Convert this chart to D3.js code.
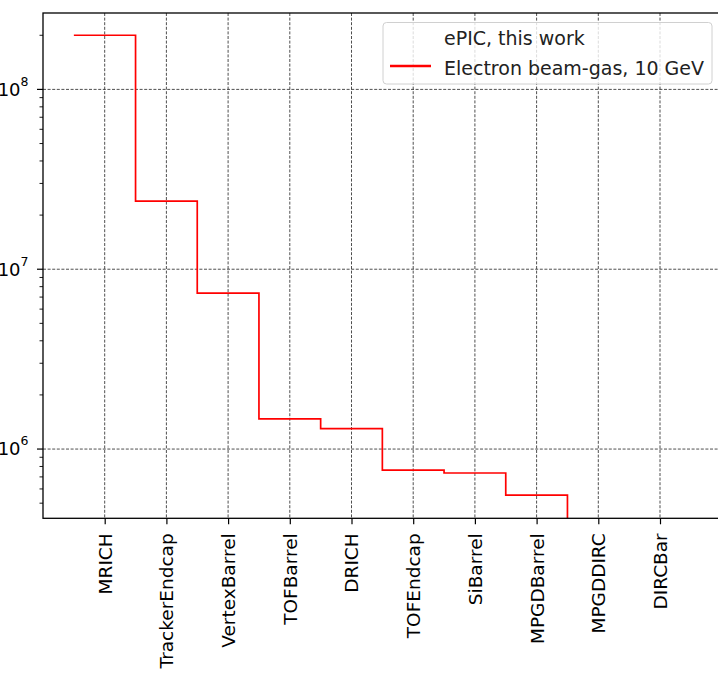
<!DOCTYPE html>
<html>
<head>
<meta charset="utf-8">
<script src="https://cdn.jsdelivr.net/npm/d3@7"></script>
<style>
  html, body { margin: 0; padding: 0; background: #fff; overflow: hidden; }
  svg { display: block; font-family: "DejaVu Sans", sans-serif; }
</style>
</head>
<body>
<svg id="chart" width="718" height="675"></svg>
<script>
const categories = ["MRICH", "TrackerEndcap", "VertexBarrel", "TOFBarrel", "DRICH",
                    "TOFEndcap", "SiBarrel", "MPGDBarrel", "MPGDDIRC", "DIRCBar"];
const values = [2.0e8, 2.39e7, 7.36e6, 1.47e6, 1.30e6, 7.64e5, 7.36e5, 5.55e5, 0, 0];
const seriesLabel = "Electron beam-gas, 10 GeV";
const legendTitle = "ePIC, this work";
const yMajorTicks = [1e6, 1e7, 1e8];
const yDomain = [4.12e5, 2.66e8];
const xDomain = [-1, 10];

(function () {
const FONT = "DejaVu Sans, sans-serif";
const svg = d3.select("#chart");
const pLeft = 43, pTop = 13, pBottom = 518.3;
const step = 61.7;
const pRight = pLeft + (xDomain[1] - xDomain[0]) * step;

const x = d3.scaleLinear().domain(xDomain).range([pLeft, pRight]);
const y = d3.scaleLog().domain(yDomain).range([pBottom, pTop]);

svg.append("defs").append("clipPath").attr("id", "plotclip")
  .append("rect").attr("x", pLeft).attr("y", pTop).attr("width", pRight - pLeft).attr("height", pBottom - pTop);

const grid = svg.append("g").attr("stroke", "#222").attr("stroke-width", 0.8)
  .attr("stroke-dasharray", "3,1.6").attr("fill", "none");
categories.forEach((c, i) => {
  grid.append("line").attr("x1", x(i)).attr("x2", x(i)).attr("y1", pTop).attr("y2", pBottom);
});
yMajorTicks.forEach(t => {
  grid.append("line").attr("x1", pLeft).attr("x2", pRight).attr("y1", y(t)).attr("y2", y(t));
});

// stairs
const pts = [];
const yv = v => v > 0 ? y(v) : pBottom + 200;
values.forEach((v, i) => {
  pts.push([x(i - 0.5), yv(v)]);
  pts.push([x(i + 0.5), yv(v)]);
});
svg.append("path")
  .attr("clip-path", "url(#plotclip)")
  .attr("d", d3.line()(pts))
  .attr("fill", "none").attr("stroke", "#ff0000").attr("stroke-width", 1.7)
  .attr("stroke-linejoin", "miter");

// x axis
const xAxis = d3.axisBottom(x).tickValues(d3.range(categories.length))
  .tickFormat(i => categories[i]).tickSize(6).tickPadding(4);
const gx = svg.append("g").attr("transform", `translate(0,${pBottom})`).call(xAxis)
  .attr("font-family", FONT).attr("font-size", 18.5);
gx.select(".domain").remove();
gx.selectAll(".tick line").attr("stroke", "#000").attr("stroke-width", 1.2);
gx.selectAll(".tick text")
  .attr("font-family", FONT).attr("font-size", 18.5).attr("fill", "#000")
  .attr("text-anchor", "end")
  .attr("transform", "rotate(-90)")
  .attr("x", -15).attr("y", 0).attr("dy", "0.35em");

// y axis
const minorTicks = [];
for (let e = 5; e <= 8; e++) for (let m = 2; m <= 9; m++) {
  const v = m * Math.pow(10, e);
  if (v >= yDomain[0] && v <= yDomain[1]) minorTicks.push(v);
}
const gy = svg.append("g");
minorTicks.forEach(v => {
  gy.append("line").attr("x1", pLeft - 3.5).attr("x2", pLeft).attr("y1", y(v)).attr("y2", y(v))
    .attr("stroke", "#000").attr("stroke-width", 0.9);
});
yMajorTicks.forEach(v => {
  gy.append("line").attr("x1", pLeft - 6).attr("x2", pLeft).attr("y1", y(v)).attr("y2", y(v))
    .attr("stroke", "#000").attr("stroke-width", 1.2);
  const exp = Math.round(Math.log10(v));
  const t = gy.append("text").attr("x", 28.5).attr("y", y(v)).attr("dy", "0.35em")
    .attr("text-anchor", "end").attr("font-size", 18).attr("fill", "#000");
  t.append("tspan").text("10");
  t.append("tspan").attr("font-size", 12.5).attr("dy", "-0.8em").text(exp);
});

// spines
svg.append("rect").attr("x", pLeft).attr("y", pTop).attr("width", pRight - pLeft).attr("height", pBottom - pTop)
  .attr("fill", "none").attr("stroke", "#000").attr("stroke-width", 1.3);

// legend
const lg = svg.append("g");
lg.append("rect").attr("x", 383).attr("y", 22.5).attr("width", 329).attr("height", 61.5)
  .attr("rx", 3.5).attr("fill", "#fff").attr("fill-opacity", 0.8)
  .attr("stroke", "#d0d0d0").attr("stroke-width", 1);
lg.append("text").attr("x", 444).attr("y", 38.5).attr("dy", "0.35em")
  .attr("font-size", 19).attr("fill", "#222").text(legendTitle);
lg.append("line").attr("x1", 390).attr("x2", 431).attr("y1", 66).attr("y2", 66)
  .attr("stroke", "#ff0000").attr("stroke-width", 2.5);
lg.append("text").attr("x", 444).attr("y", 68).attr("dy", "0.35em")
  .attr("font-size", 19).attr("fill", "#222").text(seriesLabel);
})();
</script>
</body>
</html>
